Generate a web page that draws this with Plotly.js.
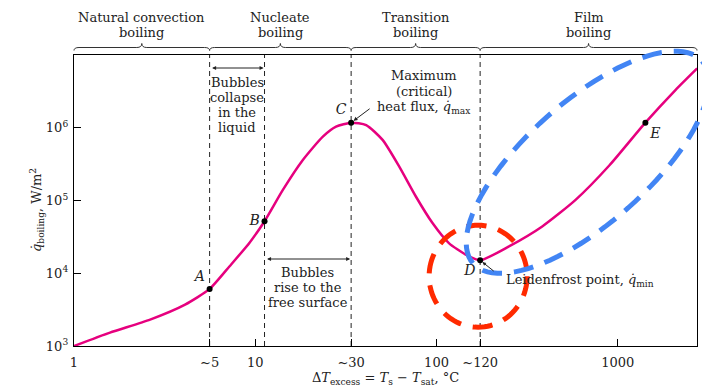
<!DOCTYPE html>
<html><head><meta charset="utf-8">
<script src="https://cdn.plot.ly/plotly-3.0.1.min.js"></script>
<style>html,body{margin:0;padding:0;background:#fff}#chart{width:702px;height:390px}</style>
</head><body><div id="chart"></div>
<script>
// ---- data ----
const deltaT   = [1, 1.58, 2.63, 4.1, 5.6, 7.2, 9.3, 11.25, 14.2, 18.3, 23.6, 27.9, 33.8, 40.9, 50.4, 62.3, 76.9, 95, 117, 145, 174, 251, 383, 585, 900, 1420, 2080, 2740];
const qBoiling = [1000, 1530, 2310, 3710, 6090, 12400, 26300, 51900, 140000, 361000, 755000, 1035000, 1175000, 1090000, 681000, 292000, 113500, 49000, 26000, 18000, 15100, 23400, 44000, 102000, 305000, 1175000, 3300000, 6550000];
const pointNames = ['A', 'B', 'C', 'D', 'E'];
const pointT = [5.6, 11.25, 33.8, 174, 1420];
const pointQ = [6090, 51900, 1175000, 15100, 1175000];
const pointLabelPos = ['top left', 'middle left', 'top left', 'bottom left', 'bottom right'];
const regionNames = [['Natural convection', 'boiling'], ['Nucleate', 'boiling'], ['Transition', 'boiling'], ['Film', 'boiling']];
const regionBounds = [1, 5.6, 33.8, 174, 2735];
const xTickVals = [1, 5.6, 10, 33.8, 100, 174, 1000];
const xTickText = ['1', '~5', '10', '~30', '100', '~120', '1000'];
const yTickVals = [1e3, 1e4, 1e5, 1e6];
const yTickText = ['10<sup>3</sup>', '10<sup>4</sup>', '10<sup>5</sup>', '10<sup>6</sup>'];

// ---- geometry helpers ----
const W = 702, H = 390, L = 74, R = 5, T = 55, B = 44;
const PW = W - L - R, PH = H - T - B;
const xr = [0, 3.437], yr = [3, 7];
const xPaper = v => (Math.log10(v) - xr[0]) / (xr[1] - xr[0]);
const yPaper = v => (Math.log10(v) - yr[0]) / (yr[1] - yr[0]);
const xPix = v => L + xPaper(v) * PW;
const yPix = v => T + (1 - yPaper(v)) * PH;
const pX = p => (p - L) / PW;
const pY = p => (T + PH - p) / PH;

const FONT = 'DejaVu Serif';
const TXT = '#222';
const annotations = [];
const shapes = [];

function textLines(linesArr, xPx, yFirstPx, spacing, size, anchor) {
  linesArr.forEach((t, i) => {
    annotations.push({xref: 'paper', yref: 'paper', x: pX(xPx), y: pY(yFirstPx + i * spacing),
      text: t, showarrow: false, xanchor: anchor || 'center', yanchor: 'middle',
      font: {family: FONT, size: size || 13, color: TXT}});
  });
}

// region headers + braces
for (let i = 0; i < regionNames.length; i++) {
  const x0 = xPix(regionBounds[i]), x1 = xPix(regionBounds[i + 1]);
  const m = (x0 + x1) / 2;
  textLines(regionNames[i], m, 17, 15.5);
  const yb = 47.5, ye = 50.5, yt = 43.5;
  const P = (x, y) => pX(x).toFixed(5) + ',' + pY(y).toFixed(5);
  const path = 'M' + P(x0, ye) + ' Q' + P(x0, yb) + ' ' + P(x0 + 5, yb) +
    ' L' + P(m - 5, yb) + ' Q' + P(m, yb) + ' ' + P(m, yt) +
    ' Q' + P(m, yb) + ' ' + P(m + 5, yb) + ' L' + P(x1 - 5, yb) +
    ' Q' + P(x1, yb) + ' ' + P(x1, ye);
  shapes.push({type: 'path', xref: 'paper', yref: 'paper', path: path, line: {color: '#333', width: 1}});
}

// Bubbles collapse (between A and B)
{
  const xa = xPix(pointT[0]), xb = xPix(pointT[1]);
  annotations.push({xref: 'paper', yref: 'paper', x: pX(xb), y: pY(68), ax: -(xb - xa), ay: 0, axref: 'pixel', ayref: 'pixel',
    text: '', showarrow: true, arrowside: 'end+start', arrowhead: 2, arrowsize: 0.8, arrowwidth: 1, arrowcolor: '#222', standoff: 1, startstandoff: 1});
  textLines(['Bubbles', 'collapse', 'in the', 'liquid'], (xa + xb) / 2, 82, 15.3);
}
// Bubbles rise (between B and C)
{
  const xa = xPix(pointT[1]), xb = xPix(pointT[2]);
  annotations.push({xref: 'paper', yref: 'paper', x: pX(xb), y: pY(259), ax: -(xb - xa), ay: 0, axref: 'pixel', ayref: 'pixel',
    text: '', showarrow: true, arrowside: 'end+start', arrowhead: 2, arrowsize: 0.8, arrowwidth: 1, arrowcolor: '#222', standoff: 1, startstandoff: 1});
  textLines(['Bubbles', 'rise to the', 'free surface'], (xa + xb) / 2, 272, 15.3);
}
// Maximum heat flux
{
  const m = (xPix(pointT[2]) + xPix(pointT[3])) / 2 + 8;
  textLines(['Maximum', '(critical)', 'heat flux, <i>q̇</i><sub>max</sub>'], m, 75, 16);
  annotations.push({xref: 'paper', yref: 'paper', x: xPaper(pointT[2]), y: yPaper(pointQ[2]), ax: 20, ay: -15,
    text: '', showarrow: true, arrowhead: 2, arrowsize: 0.8, arrowwidth: 1, arrowcolor: '#222', standoff: 3});
}
// Leidenfrost
{
  const xd = xPix(pointT[3]), yd = yPix(pointQ[3]);
  textLines(['Leidenfrost point, <i>q̇</i><sub>min</sub>'], xd + 24, yd + 20.5, 0, 13, 'left');
  annotations.push({xref: 'paper', yref: 'paper', x: xPaper(pointT[3]), y: yPaper(pointQ[3]), ax: 15, ay: 12,
    text: '', showarrow: true, arrowhead: 2, arrowsize: 0.7, arrowwidth: 1, arrowcolor: '#222', standoff: 3});
}
// y axis title
annotations.push({xref: 'paper', yref: 'paper', x: pX(26), y: pY(210), textangle: -90, showarrow: false,
  text: '<i>q̇</i><sub>boiling</sub>, W/m<sup>2</sup>', font: {family: FONT, size: 13, color: TXT}});

// highlight ellipses
function ellipsePath(cx, cy, a, b, ang) {
  let s = '';
  for (let k = 0; k <= 96; k++) {
    const t = 2 * Math.PI * k / 96;
    const ex = a * Math.cos(t), ey = b * Math.sin(t);
    const x = cx + ex * Math.cos(ang) - ey * Math.sin(ang);
    const y = cy + ex * Math.sin(ang) + ey * Math.cos(ang);
    s += (k === 0 ? 'M' : ' L') + pX(x).toFixed(5) + ',' + pY(y).toFixed(5);
  }
  return s + ' Z';
}
{
  const xd = xPix(pointT[3]), yd = yPix(pointQ[3]);
  const xe = xPix(deltaT[deltaT.length - 1]), ye = yPix(qBoiling[qBoiling.length - 1]);
  shapes.push({type: 'path', xref: 'paper', yref: 'paper', path: ellipsePath(xd - 2, yd + 16, 49, 51, 0),
    line: {color: '#ff2a00', width: 5, dash: '20px,12px'}});
  const cx = (xd + xe) / 2, cy = (yd + ye) / 2;
  const ang = Math.atan2(ye - yd, xe - xd);
  const a = Math.hypot(xe - xd, ye - yd) / 2 + 8;
  shapes.push({type: 'path', xref: 'paper', yref: 'paper', path: ellipsePath(cx - 1, cy - 2, a, 61, ang),
    line: {color: '#4285f4', width: 5, dash: '20px,12px'}});
}

// ---- traces ----
const traces = [];
pointT.slice(0, 4).forEach(v => {
  traces.push({x: [v, v], y: [Math.pow(10, yr[0]), Math.pow(10, yr[1])], mode: 'lines', hoverinfo: 'skip',
    line: {color: '#222', width: 1, dash: '5px,4px'}});
});
traces.push({x: deltaT, y: qBoiling, mode: 'lines', line: {color: '#e6007e', width: 2.5, shape: 'spline', smoothing: 0.6}});
traces.push({x: pointT, y: pointQ, mode: 'markers+text', text: pointNames, textposition: pointLabelPos,
  textfont: {family: FONT, size: 14, color: TXT, style: 'italic'}, marker: {color: '#000', size: 6}});

const axisCommon = {showline: true, linecolor: '#000', linewidth: 1.2, mirror: true, showgrid: false, zeroline: false,
  ticks: 'inside', ticklen: 7, tickcolor: '#000', tickfont: {family: FONT, size: 13, color: TXT}};

Plotly.newPlot('chart', traces, {
  width: W, height: H,
  margin: {l: L, r: R, t: T, b: B},
  paper_bgcolor: '#fff', plot_bgcolor: '#fff', showlegend: false,
  xaxis: Object.assign({type: 'log', range: xr, tickmode: 'array', tickvals: xTickVals, ticktext: xTickText, ticklabelstandoff: 4,
    title: {text: 'Δ<i>T</i><sub>excess</sub> = <i>T</i><sub>s</sub> − <i>T</i><sub>sat</sub>, °C', standoff: 4,
      font: {family: FONT, size: 13, color: TXT}}}, axisCommon),
  yaxis: Object.assign({type: 'log', range: yr, tickmode: 'array', tickvals: yTickVals, ticktext: yTickText, ticklabelstandoff: 2}, axisCommon),
  annotations: annotations, shapes: shapes
}, {displayModeBar: false, staticPlot: true});
</script></body></html>
